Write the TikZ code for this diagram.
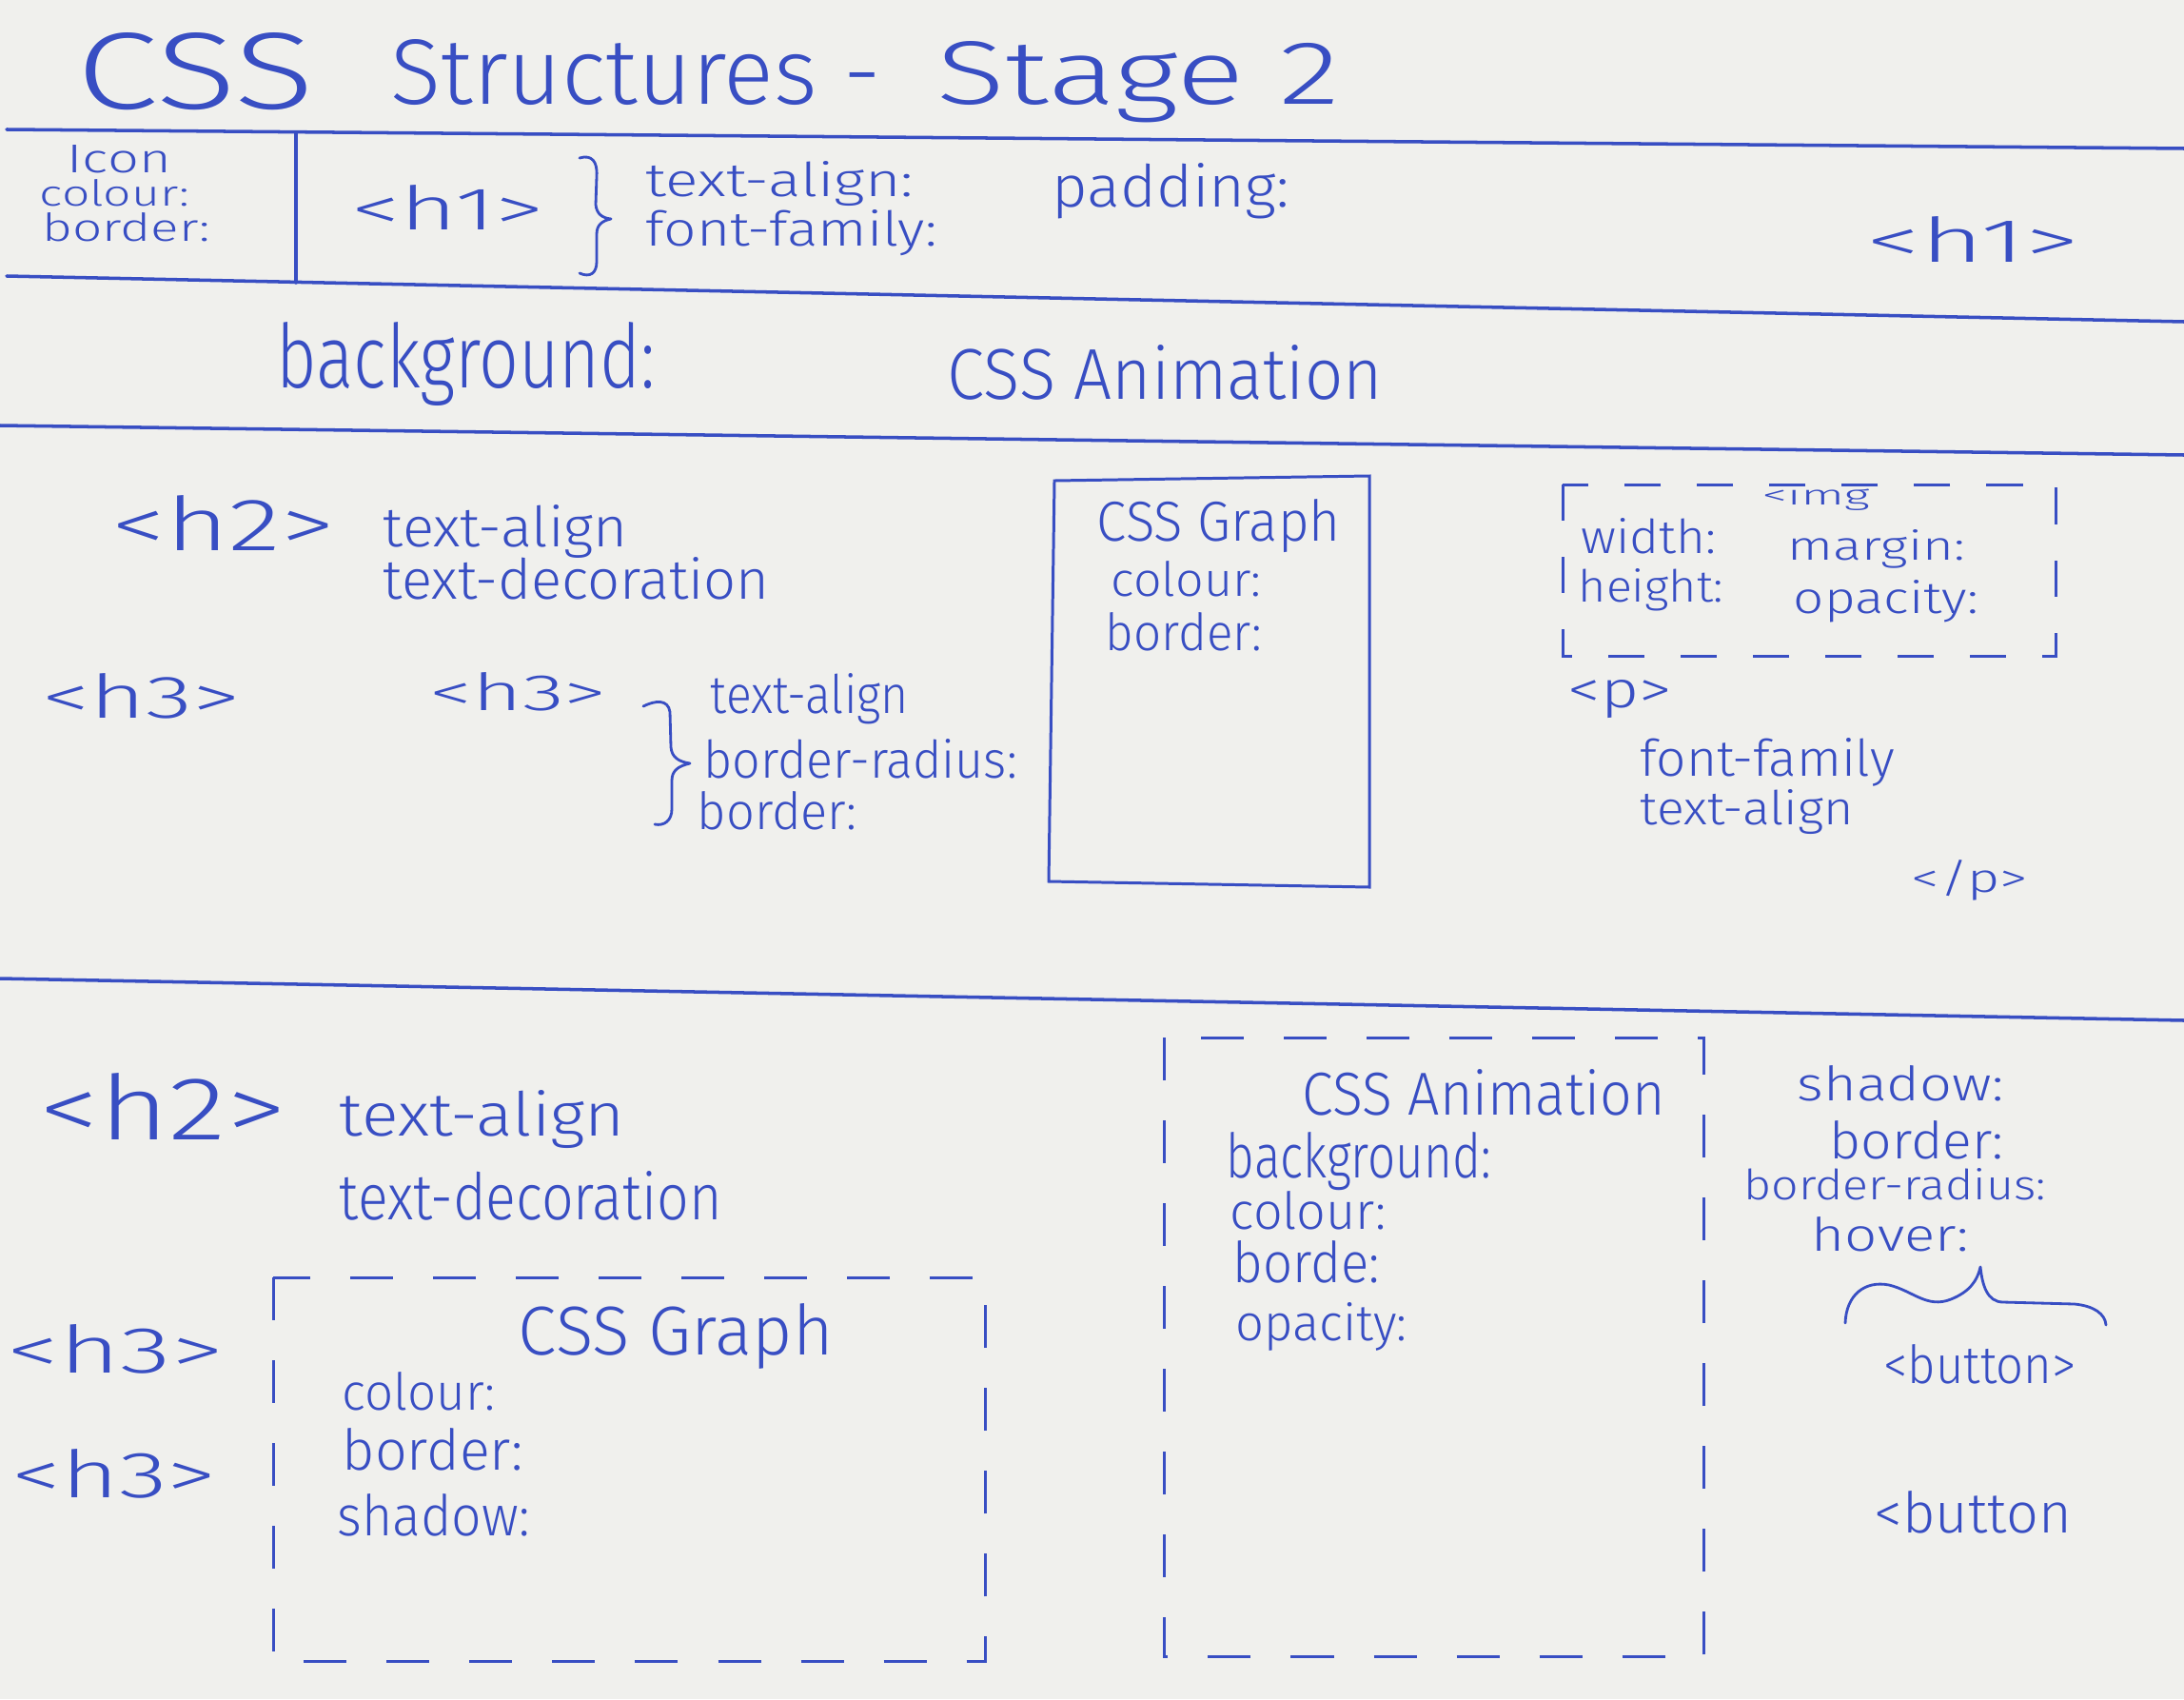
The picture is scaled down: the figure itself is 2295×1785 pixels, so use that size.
\documentclass[tikz,border=0pt]{standalone}
\usepackage{fontspec}
\setmainfont{Fira Sans}[UprightFont = * Light]
\usepackage{graphicx}
\newlength\px
\setlength\px{0.01cm}
% text squeezed to a given width and ascender height (in px units)
\newcommand\hw[3]{\resizebox{#1\px}{#2\px}{#3}}
\definecolor{ink}{RGB}{56,78,195}
\definecolor{paper}{RGB}{240,240,237}
\begin{document}
\begin{tikzpicture}[x=0.01cm,y=-0.01cm,
  txt/.style={anchor=base west, inner sep=0pt, text=ink},
  rule/.style={draw=ink, line width=1pt, line cap=round},
  box/.style={draw=ink, line width=0.85pt},
  dbox/.style={draw=ink, line width=0.85pt, dash pattern=on 0.45cm off 0.42cm},
  brace/.style={draw=ink, line width=0.8pt, line cap=round, line join=round}]

\fill[paper] (0,0) rectangle (2295,1785);
\useasboundingbox (0,0) rectangle (2295,1785);

% ---- section rules
\draw[rule] (7,136) -- (2295,156);
\draw[rule] (311,139) -- (311,297);
\draw[rule] (7,290) -- (2295,338);
\draw[rule] (0,447) -- (2295,478);
\draw[rule] (0,1028) -- (2295,1072);

% ---- title
\node[txt] (tcss) at (80,114) {\hw{250}{80}{CSS}};
\node[txt] (tstruct) at (410,110) {\hw{515}{68}{Structures -}};
\node[txt] (tstage) at (984,110) {\hw{424}{66}{Stage 2}};

% ---- header row
\node[txt] (icon) at (70,181) {\hw{109}{29}{Icon}};
\node[txt] (iconcol) at (41,216) {\hw{157}{28}{colour:}};
\node[txt] (iconbord) at (44,253) {\hw{176}{30}{border:}};
\node[txt] (hone) at (369,241) {\hw{202}{47}{<h1>}};
\draw[brace] (609,166) .. controls (622,162) and (628,170) .. (627,185) -- (626,215)
  .. controls (627,225) and (633,229) .. (642,230)
  .. controls (633,232) and (627,236) .. (627,246) -- (627,275)
  .. controls (627,287) and (620,292) .. (609,287);
\node[txt] (hta) at (678,206) {\hw{281}{37}{text-align:}};
\node[txt] (hff) at (678,258) {\hw{306}{38}{font-family:}};
\node[txt] (pad) at (1105,217) {\hw{249}{46}{padding:}};
\node[txt] (honer) at (1961,275) {\hw{223}{48}{<h1>}};

% ---- banner row
\node[txt] (bg) at (290,407) {\hw{398}{69}{background:}};
\node[txt] (anim) at (995,419) {\hw{457}{57}{CSS Animation}};

% ---- middle section
\node[txt] (htwo) at (117,578) {\hw{234}{58}{<h2>}};
\node[txt] (h2ta) at (402,574) {\hw{257}{44}{text-align}};
\node[txt] (h2td) at (402,629) {\hw{406}{44}{text-decoration}};
\node[txt] (h3a) at (44,754) {\hw{208}{47}{<h3>}};
\node[txt] (h3b) at (451,746) {\hw{186}{40}{<h3>}};
\draw[brace] (676,742) .. controls (688,736) and (702,734) .. (704,748) -- (705,785)
  .. controls (706,795) and (712,800) .. (725,802)
  .. controls (712,805) and (706,810) .. (706,820) -- (706,850)
  .. controls (706,862) and (698,868) .. (688,866);
\node[txt] (h3ta) at (746,749) {\hw{208}{42}{text-align}};
\node[txt] (h3br) at (739,817) {\hw{329}{41}{border-radius:}};
\node[txt] (h3bd) at (732,871) {\hw{168}{40}{border:}};

\draw[box] (1108,505) -- (1439,500) -- (1439,932) -- (1102,926) -- cycle;
\node[txt] (gtitle) at (1152,568) {\hw{256}{44}{CSS Graph}};
\node[txt] (gcol) at (1167,626) {\hw{158}{37}{colour:}};
\node[txt] (gbord) at (1161,683) {\hw{164}{40}{border:}};

\draw[dbox, dash pattern=on 0.38cm off 0.38cm] (1642,509) rectangle (2160,689);
\node[txt] (img) at (1851,530) {\hw{113}{22}{<img}};
\node[txt] (iw) at (1661,581) {\hw{142}{37}{width:}};
\node[txt] (ih) at (1658,632) {\hw{152}{35}{height:}};
\node[txt] (im) at (1878,588) {\hw{186}{32}{margin:}};
\node[txt] (io) at (1884,644) {\hw{194}{35}{opacity:}};

\node[txt] (popen) at (1647,743) {\hw{109}{29}{<p>}};
\node[txt] (pff) at (1723,815) {\hw{267}{40}{font-family}};
\node[txt] (pta) at (1723,866) {\hw{224}{37}{text-align}};
\node[txt] (pclose) at (2008,937) {\hw{122}{34}{</p>}};

% ---- lower section
\node[txt] (btwo) at (41,1197) {\hw{259}{70}{<h2>}};
\node[txt] (bta) at (356,1193) {\hw{300}{48}{text-align}};
\node[txt] (btd) at (356,1281) {\hw{402}{51}{text-decoration}};
\node[txt] (bh3a) at (7,1442) {\hw{227}{51}{<h3>}};
\node[txt] (bh3b) at (12,1573) {\hw{215}{51}{<h3>}};

\draw[dbox] (287,1342) rectangle (1035,1745);
\node[txt] (bgt) at (544,1423) {\hw{331}{54}{CSS Graph}};
\node[txt] (bgc) at (359,1481) {\hw{161}{40}{colour:}};
\node[txt] (bgb) at (359,1544) {\hw{190}{44}{border:}};
\node[txt] (bgs) at (354,1613) {\hw{202}{44}{shadow:}};

\draw[dbox] (1223,1090) rectangle (1790,1740);
\node[txt] (bat) at (1368,1171) {\hw{381}{48}{CSS Animation}};
\node[txt] (babg) at (1288,1237) {\hw{278}{48}{background:}};
\node[txt] (bacol) at (1292,1291) {\hw{164}{40}{colour:}};
\node[txt] (babord) at (1295,1347) {\hw{154}{44}{borde:}};
\node[txt] (baop) at (1298,1408) {\hw{180}{40}{opacity:}};

\node[txt] (bsh) at (1888,1156) {\hw{217}{37}{shadow:}};
\node[txt] (bbd) at (1922,1217) {\hw{183}{40}{border:}};
\node[txt] (bbr) at (1832,1260) {\hw{317}{33}{border-radius:}};
\node[txt] (bhv) at (1903,1314) {\hw{165}{36}{hover:}};
\draw[brace] (1939,1390) .. controls (1940,1360) and (1960,1345) .. (1985,1350)
  .. controls (2010,1356) and (2025,1375) .. (2050,1365)
  .. controls (2070,1357) and (2078,1345) .. (2081,1331)
  .. controls (2083,1350) and (2088,1368) .. (2105,1368) -- (2180,1370)
  .. controls (2200,1372) and (2212,1380) .. (2213,1392);
\node[txt] (btn1) at (1979,1453) {\hw{202}{41}{<button>}};
\node[txt] (btn2) at (1969,1610) {\hw{207}{44}{<button}};

\end{tikzpicture}
\end{document}
